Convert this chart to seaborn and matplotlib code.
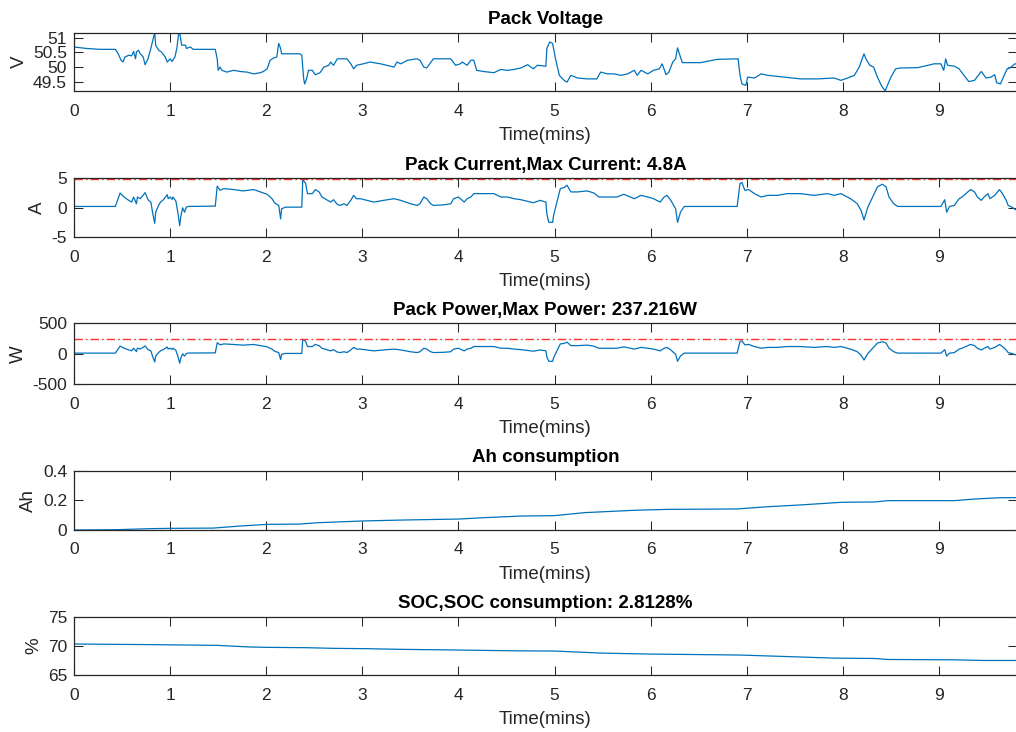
import numpy as np
import matplotlib
matplotlib.use("Agg")
import matplotlib.pyplot as plt
import seaborn as sns
from matplotlib.ticker import FuncFormatter

# ---------------- data ----------------
volt_time = [0.00, 0.13, 0.27, 0.43, 0.46, 0.49, 0.51, 0.53, 0.57, 0.60, 0.62, 0.64, 0.65, 0.67, 0.69,
             0.72, 0.74, 0.77, 0.80, 0.82, 0.84, 0.85, 0.88, 0.91, 0.95, 0.97, 1.00, 1.02, 1.05, 1.07,
             1.09, 1.10, 1.12, 1.16, 1.17, 1.21, 1.24, 1.47, 1.49, 1.50, 1.52, 1.54, 1.59, 1.66, 1.73,
             1.80, 1.87, 1.94, 1.97, 2.01, 2.04, 2.08, 2.11, 2.13, 2.15, 2.16, 2.35, 2.37, 2.39, 2.40,
             2.42, 2.44, 2.48, 2.51, 2.56, 2.60, 2.65, 2.67, 2.70, 2.74, 2.84, 2.88, 2.91, 2.94, 3.01,
             3.08, 3.19, 3.33, 3.36, 3.40, 3.47, 3.57, 3.60, 3.64, 3.67, 3.74, 3.81, 3.92, 3.97, 4.02,
             4.04, 4.09, 4.13, 4.16, 4.19, 4.26, 4.37, 4.44, 4.51, 4.58, 4.65,
             4.72, 4.78, 4.82, 4.91, 4.92, 4.95, 4.98, 5.01, 5.05, 5.10, 5.13, 5.17, 5.24, 5.34, 5.44,
             5.48, 5.55, 5.62, 5.69, 5.76, 5.83, 5.86, 5.90, 5.97, 6.03, 6.09, 6.12, 6.16, 6.19, 6.23,
             6.26, 6.28, 6.31, 6.33, 6.52, 6.69, 6.91, 6.93, 6.95, 6.99, 7.01, 7.08, 7.15, 7.22, 7.39,
             7.56, 7.74, 7.91, 7.98, 8.05, 8.12, 8.17, 8.22, 8.24, 8.28, 8.32, 8.36, 8.40, 8.44, 8.47,
             8.50, 8.55, 8.60, 8.78, 8.95, 9.02, 9.05, 9.07, 9.09, 9.16, 9.21, 9.26, 9.31, 9.37, 9.44,
             9.49, 9.54, 9.58, 9.60, 9.64, 9.67, 9.71, 9.74, 9.79, 9.81]
voltage = [50.68, 50.63, 50.60, 50.60, 50.45, 50.23, 50.17, 50.34, 50.40, 50.38, 50.53, 50.28, 50.51, 50.57, 50.45,
           50.34, 50.08, 50.28, 50.63, 50.91, 51.16, 50.74, 50.57, 50.51, 50.34, 50.17, 50.28, 50.19, 50.34, 50.63,
           51.17, 51.15, 50.74, 50.74, 50.63, 50.68, 50.60, 50.60, 50.28, 49.89, 50.00, 49.89, 49.83, 49.89, 49.85,
           49.83, 49.77, 49.81, 49.85, 49.94, 50.23, 50.31, 50.34, 50.80, 50.63, 50.45, 50.45, 50.40, 49.60, 49.43,
           49.60, 49.89, 49.89, 49.74, 49.81, 50.00, 50.06, 50.17, 50.06, 50.28, 50.28, 50.11, 49.94, 50.06, 50.11,
           50.17, 50.11, 50.00, 50.17, 50.11, 50.23, 50.28, 50.23, 50.00, 49.97, 50.28, 50.28, 50.28, 50.06, 50.11,
           50.17, 50.06, 50.23, 50.23, 49.89, 49.85, 49.81, 49.92, 49.89, 49.92, 49.97,
           50.08, 49.94, 50.06, 50.03, 50.63, 50.85, 50.80, 50.28, 49.72, 49.55, 49.49, 49.72, 49.63, 49.60, 49.60,
           49.83, 49.77, 49.77, 49.72, 49.77, 49.89, 49.72, 49.89, 49.77, 49.89, 49.94, 50.11, 49.74, 49.83, 50.17,
           50.28, 50.65, 50.34, 50.15, 50.15, 50.26, 50.28, 49.72, 49.43, 49.38, 49.66, 49.63, 49.77, 49.72, 49.66,
           49.60, 49.60, 49.63, 49.55, 49.63, 49.72, 50.00, 50.45, 50.28, 50.06, 50.00, 49.66, 49.38, 49.19, 49.43,
           49.66, 49.94, 49.97, 49.98, 50.11, 50.11, 49.89, 50.28, 50.06, 50.03, 49.94, 49.72, 49.51, 49.55, 49.85,
           49.63, 49.66, 49.74, 49.47, 49.43, 49.66, 49.94, 49.97, 50.11, 50.11]

ip_time = [0.00, 0.43, 0.48, 0.52, 0.57, 0.60, 0.62, 0.65, 0.66, 0.69, 0.74, 0.77, 0.80, 0.82, 0.84,
           0.85, 0.88, 0.90, 0.93, 0.97, 0.98, 1.00, 1.02, 1.03, 1.06, 1.08, 1.10, 1.11, 1.13, 1.15,
           1.17, 1.19, 1.47, 1.49, 1.52, 1.56, 1.66, 1.76, 1.87, 1.94, 2.01, 2.06, 2.09, 2.13, 2.15,
           2.16, 2.20, 2.37, 2.38, 2.41, 2.43, 2.48, 2.51, 2.55, 2.58, 2.61, 2.67, 2.70, 2.74, 2.77,
           2.81, 2.84, 2.88, 2.91, 2.94, 2.98, 3.05, 3.12, 3.22, 3.33, 3.40, 3.50, 3.57, 3.60, 3.64,
           3.67, 3.71, 3.74, 3.85, 3.92, 3.95, 4.00, 4.06, 4.09, 4.13, 4.16, 4.23, 4.37, 4.44, 4.51,
           4.58, 4.65,
           4.78, 4.85, 4.91, 4.92, 4.94, 4.98, 4.99, 5.03, 5.06, 5.10, 5.13, 5.17, 5.24, 5.34, 5.41,
           5.46, 5.55, 5.65, 5.72, 5.83, 5.90, 5.97, 6.03, 6.10, 6.14, 6.17, 6.21, 6.26, 6.28, 6.31,
           6.35, 6.90, 6.93, 6.95, 6.98, 7.02, 7.08, 7.15, 7.22, 7.32, 7.42, 7.56, 7.70, 7.84, 7.91,
           7.98, 8.08, 8.15, 8.19, 8.22, 8.26, 8.31, 8.36, 8.41, 8.45, 8.48, 8.53, 8.57, 9.02, 9.06,
           9.08, 9.11, 9.16, 9.21, 9.24, 9.30, 9.33, 9.37, 9.40, 9.44, 9.47, 9.51, 9.53, 9.58, 9.63,
           9.66, 9.70, 9.72, 9.76, 9.81]
current = [0.23, 0.23, 2.51, 1.83, 1.26, 0.97, 1.83, 0.69, 1.83, 1.54, 2.57, 1.37, 0.97, -1.03, -2.63,
           -0.74, 0.40, 0.97, 1.37, 2.23, 1.54, 1.83, 1.43, 1.83, 1.14, -0.74, -3.03, -1.60, 0.00, -0.74,
           0.11, 0.23, 0.29, 3.66, 2.97, 3.26, 3.09, 2.86, 3.09, 2.69, 2.29, 1.54, 0.80, 0.40, -1.89,
           -0.17, 0.11, 0.11, 4.80, 4.11, 2.40, 2.40, 3.09, 2.69, 1.83, 1.54, 0.97, 1.37, 0.57, 0.40,
           0.69, 0.40, 1.26, 2.11, 1.54, 1.54, 1.26, 0.97, 1.26, 1.54, 1.26, 0.69, 0.40, 0.69, 1.83,
           1.54, 0.69, 0.40, 0.51, 0.69, 1.54, 1.83, 0.97, 1.54, 1.83, 2.40, 2.40, 2.40, 1.83, 1.83,
           1.54, 1.37,
           0.86, 1.26, 0.97, -1.03, -2.46, -2.46, -1.31, 1.26, 3.26, 3.43, 3.83, 2.69, 2.69, 2.86, 2.51,
           1.83, 1.83, 1.83, 2.29, 1.54, 2.11, 1.83, 1.54, 0.97, 1.83, 2.11, 1.26, -0.17, -2.46, -0.74,
           0.23, 0.23, 4.11, 4.29, 2.97, 3.09, 2.40, 1.83, 2.11, 2.11, 2.40, 2.40, 2.11, 2.40, 2.11,
           2.40, 1.54, 0.69, -0.46, -2.06, 0.11, 1.83, 3.54, 4.00, 3.54, 1.83, 0.69, 0.23, 0.23, 1.37,
           -0.74, 0.23, 0.40, 1.54, 1.83, 2.69, 3.09, 2.69, 1.83, 1.26, 1.83, 2.40, 1.54, 2.11, 3.09,
           2.40, 1.26, 0.40, 0.11, -0.46]
power = [11, 11, 126, 92, 63, 49, 92, 35, 92, 77, 129, 69, 49, -52, -133,
         -37, 20, 49, 69, 112, 77, 92, 72, 92, 57, -37, -154, -81, 0, -37,
         6, 12, 15, 181, 147, 162, 153, 142, 153, 133, 114, 77, 40, 20, -95,
         -9, 6, 6, 237.216, 204, 119, 119, 153, 133, 91, 77, 48, 68, 28, 20,
         34, 20, 63, 105, 77, 77, 63, 48, 63, 77, 63, 34, 20, 34, 91,
         77, 34, 20, 25, 34, 77, 91, 48, 77, 91, 119, 119, 119, 91, 91,
         77, 68,
         43, 63, 48, -51, -123, -123, -65, 63, 162, 170, 190, 134, 134, 142, 125,
         91, 91, 91, 114, 77, 105, 91, 77, 48, 91, 105, 63, -8, -123, -37,
         11, 11, 203, 212, 147, 153, 119, 91, 105, 105, 119, 119, 105, 119, 105,
         119, 77, 34, -23, -102, 5, 91, 176, 198, 176, 91, 34, 11, 11, 68,
         -37, 11, 20, 77, 91, 134, 153, 134, 91, 63, 91, 119, 77, 105, 153,
         119, 63, 20, 5, -23]

ah_time = [0.00, 0.44, 0.79, 1.00, 1.45, 1.73, 2.01, 2.35, 2.53, 3.01, 3.40, 4.01, 4.26, 4.65,
           5.00, 5.31, 5.83, 6.17, 6.90, 7.22, 7.56, 7.99, 8.33, 8.47, 9.16, 9.37, 9.65, 9.81]
ah = [0.000, 0.002, 0.009, 0.011, 0.013, 0.027, 0.038, 0.040, 0.049, 0.061, 0.067, 0.074, 0.083, 0.094,
      0.097, 0.117, 0.133, 0.139, 0.142, 0.157, 0.169, 0.187, 0.189, 0.198, 0.198, 0.209, 0.218, 0.218]

soc_time = [0.00, 0.83, 1.49, 1.83, 2.01, 2.42, 2.70, 3.05, 3.40, 4.01, 4.26, 4.65,
            5.00, 5.48, 6.00, 6.66, 6.94, 7.49, 7.91, 8.33, 8.47, 9.16, 9.47, 9.81]
soc = [70.34, 70.23, 70.11, 69.83, 69.77, 69.71, 69.60, 69.54, 69.43, 69.31, 69.25, 69.17,
       69.14, 68.79, 68.62, 68.51, 68.45, 68.16, 67.93, 67.87, 67.70, 67.64, 67.53, 67.53]

max_current = 4.8
max_power = 237.216
soc_used = 2.8128

titles = ["Pack Voltage",
          f"Pack Current,Max Current: {max_current}A",
          f"Pack Power,Max Power: {max_power}W",
          "Ah consumption",
          f"SOC,SOC consumption: {soc_used}%"]
ylabels = ["V", "A", "W", "Ah", "%"]
yticks = [[49.5, 50, 50.5, 51], [-5, 0, 5], [-500, 0, 500], [0, 0.2, 0.4], [65, 70, 75]]
xticks = list(range(0, 10))

# ---------------- style ----------------
sns.set_style("ticks")
plt.rcParams['font.family'] = ['Liberation Sans', 'DejaVu Sans']
plt.rcParams['axes.unicode_minus'] = False

LINE = "#0072BD"
GRAY = "#262626"
RED = "#FF3030"
W, H = 1016, 732
fig = plt.figure(figsize=(W / 100, H / 100), dpi=100)

# axes boxes in pixels: (top, bottom)
boxes = [(32.5, 91), (178.3, 237.3), (323.3, 384.3), (470.7, 530), (616.7, 675.3)]
left_px, right_px = 74, 1016.8

series = [(volt_time, voltage), (ip_time, current), (ip_time, power), (ah_time, ah), (soc_time, soc)]
xmax = max(volt_time)

for i, ((top, bot), (tx, ty)) in enumerate(zip(boxes, series)):
    ax = fig.add_axes([left_px / W, 1 - bot / H, (right_px - left_px) / W, (bot - top) / H])
    sns.lineplot(x=tx, y=ty, ax=ax, color=LINE, linewidth=0.9, sort=False)
    if i in (1, 2):
        level = max_current if i == 1 else max_power
        ref = ax.axhline(level, color=RED, linewidth=1.0)
        ref.set_dashes((6, 2.2, 1.2, 2.2))
    ax.set_xlim(0, xmax)
    if i == 0:
        ax.set_ylim(min(voltage), max(voltage))
    else:
        ax.set_ylim(yticks[i][0], yticks[i][-1])
    ax.set_xticks(xticks)
    ax.set_yticks(yticks[i])
    ax.yaxis.set_major_formatter(FuncFormatter(lambda v, p: f"{v:g}"))
    ax.xaxis.set_major_formatter(FuncFormatter(lambda v, p: f"{v:g}"))
    ax.tick_params(direction="in", length=6.5, width=0.75, top=True, right=True,
                   labelsize=12.5, colors=GRAY)
    ax.tick_params(axis="x", pad=9)
    ax.tick_params(axis="y", pad=5)
    for s in ax.spines.values():
        s.set_visible(True)
        s.set_linewidth(0.9)
        s.set_color(GRAY)
    ax.set_title(titles[i], fontsize=13.5, fontweight="bold", color="black", pad=6)
    ax.set_xlabel("Time(mins)", fontsize=13.5, color=GRAY, labelpad=6)
    ax.set_ylabel(ylabels[i], fontsize=13.5, color=GRAY, labelpad=4)
    ax.set_facecolor("white")

fig.savefig("out.png", dpi=100, facecolor="white")
